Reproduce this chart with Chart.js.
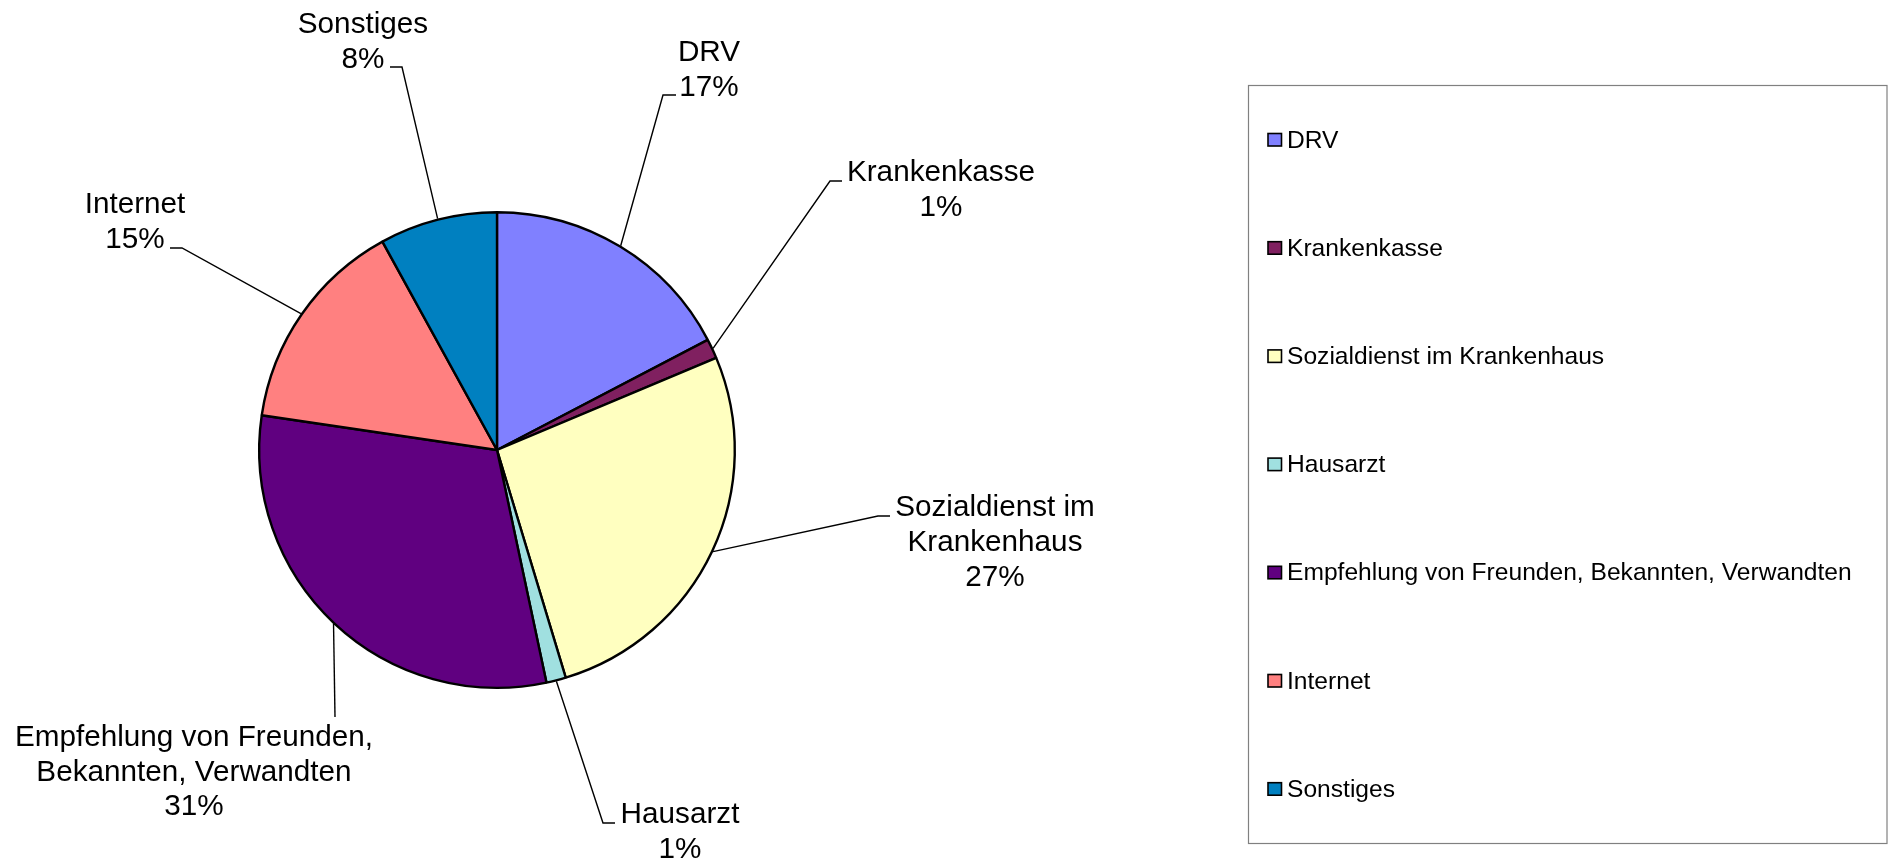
<!DOCTYPE html>
<html>
<head>
<meta charset="utf-8">
<script src="https://cdn.jsdelivr.net/npm/chart.js@4.4.1/dist/chart.umd.min.js"></script>
<style>
  html, body { margin: 0; padding: 0; background: #ffffff; }
  #c { display: block; }
</style>
</head>
<body>
<canvas id="c" width="1892" height="863"></canvas>
<script>
// ---- data ----
const categories = [
  'DRV',
  'Krankenkasse',
  'Sozialdienst im Krankenhaus',
  'Hausarzt',
  'Empfehlung von Freunden, Bekannten, Verwandten',
  'Internet',
  'Sonstiges'
];
const counts = [13, 1, 20, 1, 23, 11, 6];
const sliceColors = ['#8080FF', '#802060', '#FFFFC0', '#A0E0E0', '#600080', '#FF8080', '#0080C0'];

// ---- layout (label placement, not data) ----
const FONT = '"Liberation Sans", Arial, Helvetica, sans-serif';
const labelLayout = [
  { cx: 709, y: 61,    ex: 663, ey: 95,  tx: 676, wrap: 400 },
  { cx: 941, y: 181,   ex: 830, ey: 181, tx: 842, wrap: 400 },
  { cx: 995, y: 516,   ex: 878, ey: 516, tx: 890, wrap: 215 },
  { cx: 680, y: 823.3, ex: 603, ey: 823, tx: 615, wrap: 400 },
  { cx: 194, y: 745.7, ex: 335, ey: 717, tx: 335, wrap: 370 },
  { cx: 135, y: 213.3, ex: 182, ey: 248, tx: 170, wrap: 400 },
  { cx: 363, y: 33.3,  ex: 402, ey: 67,  tx: 390, wrap: 400 }
];

function wrapText(ctx, text, maxW) {
  const words = text.split(' ');
  const lines = [];
  let cur = '';
  for (const w of words) {
    const t = cur ? cur + ' ' + w : w;
    if (cur && ctx.measureText(t).width > maxW) { lines.push(cur); cur = w; }
    else cur = t;
  }
  if (cur) lines.push(cur);
  return lines;
}

const outLabels = {
  id: 'outLabels',
  afterDatasetsDraw(chart) {
    const ctx = chart.ctx;
    const meta = chart.getDatasetMeta(0);
    const data = chart.data.datasets[0].data;
    const total = data.reduce((a, b) => a + b, 0);
    ctx.save();
    ctx.font = '29.7px ' + FONT;
    ctx.fillStyle = '#000';
    ctx.strokeStyle = '#000';
    ctx.lineWidth = 1.4;
    meta.data.forEach((arc, i) => {
      const p = arc.getProps(['x', 'y', 'startAngle', 'endAngle', 'outerRadius'], true);
      const mid = (p.startAngle + p.endAngle) / 2;
      const r = p.outerRadius + 1;
      const sx = p.x + Math.cos(mid) * r;
      const sy = p.y + Math.sin(mid) * r;
      const L = labelLayout[i];
      ctx.beginPath();
      ctx.moveTo(sx, sy);
      ctx.lineTo(L.ex, L.ey);
      ctx.lineTo(L.tx, L.ey);
      ctx.stroke();
      const lines = wrapText(ctx, chart.data.labels[i], L.wrap);
      lines.push(Math.round(data[i] / total * 100) + '%');
      ctx.textAlign = 'center';
      ctx.textBaseline = 'alphabetic';
      lines.forEach((ln, k) => ctx.fillText(ln, L.cx, L.y + k * 34.8));
    });
    ctx.restore();
  }
};

const boxLegend = {
  id: 'boxLegend',
  afterDraw(chart) {
    const ctx = chart.ctx;
    const ds = chart.data.datasets[0];
    ctx.save();
    ctx.strokeStyle = '#808080';
    ctx.lineWidth = 1.2;
    ctx.strokeRect(1248.5, 85.5, 638.5, 758);
    ctx.font = '24.6px ' + FONT;
    ctx.textAlign = 'left';
    ctx.textBaseline = 'alphabetic';
    chart.data.labels.forEach((lab, i) => {
      const base = 147.5 + i * 108.2;
      ctx.fillStyle = ds.backgroundColor[i];
      ctx.fillRect(1268, base - 14, 13.5, 12.5);
      ctx.strokeStyle = '#000';
      ctx.lineWidth = 1.6;
      ctx.strokeRect(1268, base - 14, 13.5, 12.5);
      ctx.fillStyle = '#000';
      ctx.fillText(lab, 1287, base);
    });
    ctx.restore();
  }
};

new Chart(document.getElementById('c'), {
  type: 'pie',
  data: {
    labels: categories,
    datasets: [{
      data: counts,
      backgroundColor: sliceColors,
      borderColor: '#000000',
      borderWidth: 2.4,
      hoverOffset: 0
    }]
  },
  options: {
    responsive: false,
    devicePixelRatio: 1,
    animation: false,
    events: [],
    layout: { padding: { left: 258, right: 1156, top: 211, bottom: 174 } },
    plugins: {
      legend: { display: false },
      tooltip: { enabled: false },
      title: { display: false }
    }
  },
  plugins: [outLabels, boxLegend]
});
</script>
</body>
</html>
